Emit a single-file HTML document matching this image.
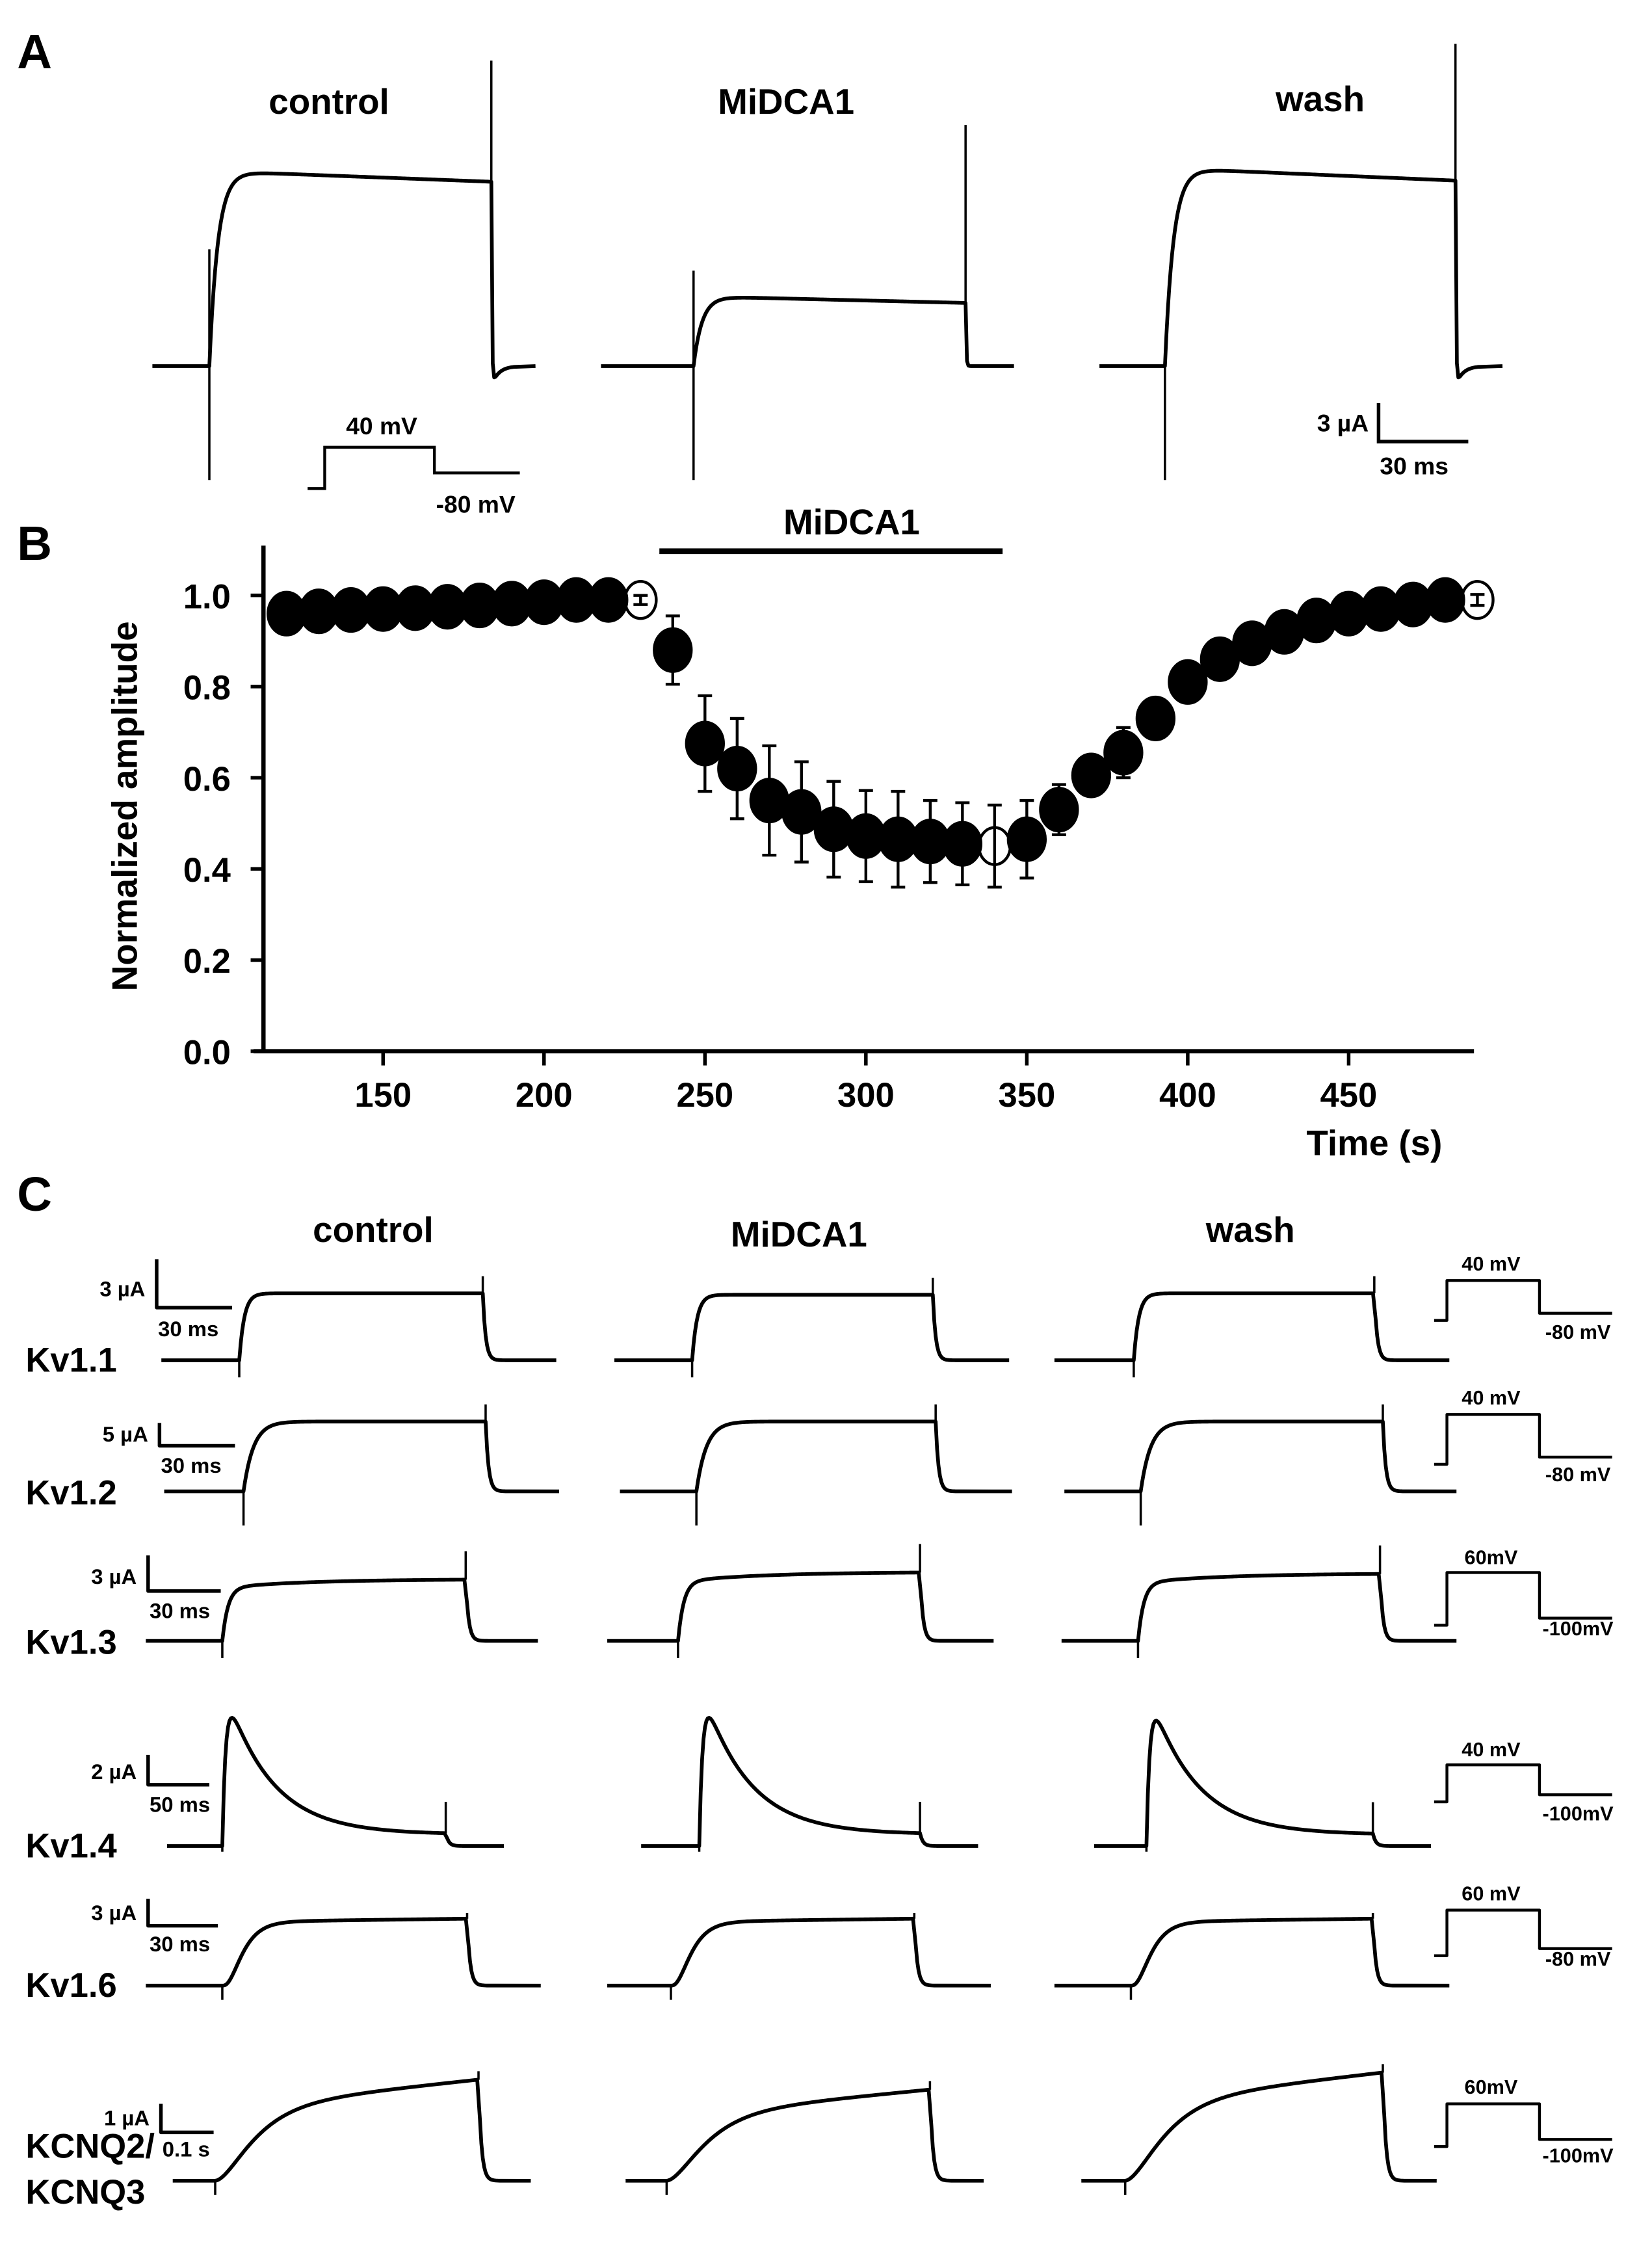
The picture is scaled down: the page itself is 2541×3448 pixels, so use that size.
<!DOCTYPE html>
<html><head><meta charset="utf-8">
<style>
html,body{margin:0;padding:0;background:#fff;}
svg{display:block;}
text{font-family:"Liberation Sans",Arial,sans-serif;font-weight:bold;fill:#000;}
</style></head>
<body>
<svg id="fig" width="2541" height="3448" viewBox="0 0 1160 1574" preserveAspectRatio="none" xmlns="http://www.w3.org/2000/svg">
<rect width="1160" height="1574" fill="#fff"/>
<text x="12" y="48" font-size="34">A</text>
<text x="12" y="393" font-size="34">B</text>
<text x="12" y="850" font-size="34">C</text>

<g id="panelA">
<text x="231" y="80" font-size="25" text-anchor="middle">control</text>
<text x="552" y="80" font-size="25" text-anchor="middle">MiDCA1</text>
<text x="927" y="78" font-size="25" text-anchor="middle">wash</text>
<path d="M216 343 H228 V314 H305 V332 H365" fill="none" stroke="#000" stroke-width="2"/>
<text x="268" y="305" font-size="17" text-anchor="middle">40 mV</text>
<text x="334" y="360" font-size="17" text-anchor="middle">-80 mV</text>
<path d="M968 283 V310 H1031" fill="none" stroke="#000" stroke-width="2.5"/>
<text x="961" y="303" font-size="17" text-anchor="end">3 µA</text>
<text x="993" y="333" font-size="17" text-anchor="middle">30 ms</text>
</g>

<g id="panelB">
<line x1="185" y1="383" x2="185" y2="738" stroke="#000" stroke-width="3"/>
<line x1="178" y1="738" x2="1035" y2="738" stroke="#000" stroke-width="3"/>
<text transform="translate(96,566) rotate(-90)" font-size="25" text-anchor="middle">Normalized amplitude</text>
<text x="965" y="811" font-size="25" text-anchor="middle">Time (s)</text>
<line x1="463" y1="387" x2="704" y2="387" stroke="#000" stroke-width="4"/>
<text x="598" y="375" font-size="25" text-anchor="middle">MiDCA1</text>
<g id="bticks"></g>
<g id="bdata"></g>
</g>

<g id="panelC">
<text x="262" y="872" font-size="25" text-anchor="middle">control</text>
<text x="561" y="875" font-size="25" text-anchor="middle">MiDCA1</text>
<text x="878" y="872" font-size="25" text-anchor="middle">wash</text>
</g>
<g id="traces"></g>
</svg>
<script>
// ---- Panel B data ----
const times = [120,130,140,150,160,170,180,190,200,210,220,230,240,250,260,270,280,290,300,310,320,330,340,350,360,370,380,390,400,410,420,430,440,450,460,470,480,490];
const amps  = [0.96,0.965,0.968,0.97,0.972,0.975,0.978,0.982,0.985,0.99,0.99,0.99,0.88,0.675,0.62,0.55,0.525,0.487,0.472,0.465,0.46,0.455,0.45,0.465,0.53,0.605,0.655,0.73,0.81,0.86,0.895,0.92,0.945,0.96,0.97,0.98,0.99,0.99];
const errs  = [0,0,0,0,0,0,0,0,0,0,0,0.01,0.075,0.105,0.11,0.12,0.11,0.105,0.1,0.105,0.09,0.09,0.09,0.085,0.055,0,0.055,0,0,0.025,0.03,0.03,0,0,0,0,0,0.012];
const openPts = [230,340,490];
const xTicks = [150,200,250,300,350,400,450];
const yTicks = [0,0.2,0.4,0.6,0.8,1.0];
const yTickLabels = ["0.0","0.2","0.4","0.6","0.8","1.0"];

const NS="http://www.w3.org/2000/svg";
function xS(t){return 269+(t-150)*2.26;}
function yS(v){return 738-v*320;}
function mk(tag,attrs,parent){const e=document.createElementNS(NS,tag);for(const k in attrs)e.setAttribute(k,attrs[k]);parent.appendChild(e);return e;}

const bt=document.getElementById('bticks');
xTicks.forEach(t=>{
  const l=mk('line',{x1:xS(t),x2:xS(t),y1:738,y2:748,stroke:'#000','stroke-width':2.5},bt);
  
  
  const tx=mk('text',{x:xS(t),y:777,'font-size':24,'text-anchor':'middle'},bt);
  tx.textContent=t;
  
  
});
yTicks.forEach((v,i)=>{
  const l=mk('line',{x1:176,x2:185,y1:yS(v),y2:yS(v),stroke:'#000','stroke-width':2.5},bt);
  
  
  const tx=mk('text',{x:162,y:yS(v)+9,'font-size':24,'text-anchor':'end'},bt);
  tx.textContent=yTickLabels[i];
  
  
});
const bd=document.getElementById('bdata');
times.forEach((t,i)=>{
  const x=xS(t),y=yS(amps[i]),e=errs[i];
  if(e>0){
    const p=mk('path',{d:`M${x} ${yS(amps[i]+e)} V${yS(amps[i]-e)} M${x-5} ${yS(amps[i]+e)} H${x+5} M${x-5} ${yS(amps[i]-e)} H${x+5}`,stroke:'#000','stroke-width':2,fill:'none'},bd);
    
    
  }
  const open=openPts.includes(t);
  const c=mk('ellipse',{cx:x,cy:y,rx:open?11:13.5,ry:open?13:15.5,fill:open?'none':'#000',stroke:'#000','stroke-width':open?2:1},bd);
  
  
});

// ---- Traces ----
const tg=document.getElementById('traces');
function addPath(d,name,w){
  const p=mk('path',{d:d,fill:'none',stroke:'#000','stroke-width':w||2.6,'stroke-linejoin':'round'},tg);
  
  
}
function trace(o,name){
  let d=`M${o.x0} ${o.base} L${o.xs} ${o.base}`;
  let yEnd=o.base;
  for(let x=o.xs;x<=o.xe;x+=1){
    const t=x-o.xs;
    const y=o.base-o.A*o.f(t);
    d+=` L${x} ${y.toFixed(2)}`;yEnd=y;
  }
  const tt=o.tailTau||3;
  for(let k=1;k<=16;k++){
    let y=o.base+(yEnd-o.base)*Math.exp(-k/tt);
    if(o.under) y+=o.under*Math.exp(-k/5)*(1-Math.exp(-k/0.7));
    d+=` L${o.xe+k} ${y.toFixed(2)}`;
  }
  d+=` L${o.x1} ${o.base}`;
  addPath(d,name,o.w);
  let s=`M${o.xs} ${o.base-(o.su||0)} V${o.base+(o.sd||0)}`;
  if(o.eu||o.ed) s+=` M${o.xe} ${yEnd-(o.eu||0)} V${yEnd+(o.ed||0)}`;
  addPath(s,name+'-transient',1.6);
}
const expR=(tau,drift)=>t=>(1-Math.exp(-t/tau))-drift*t;
// Panel A
trace({x0:107,xs:147,xe:345,x1:376,base:257,A:137,f:expR(6,0.00028),su:82,sd:80,eu:85,ed:0,under:14,tailTau:0.4},'trace-a-control');
trace({x0:422,xs:487,xe:678,x1:712,base:257,A:49,f:expR(6,0.0005),su:67,sd:80,eu:125,ed:0,tailTau:0.4},'trace-a-midca1');
trace({x0:772,xs:818,xe:1022,x1:1055,base:257,A:139,f:expR(6,0.00031),sd:80,eu:96,ed:0,under:14,tailTau:0.4},'trace-a-wash');

// Panel C rows
const rows=[
 {name:'kv1-1',base:955,cols:[[115,170,342,394,47],[435,490,660,714,46],[746,802,972,1025,47]],f:expR(3.5,0),sd:12,eu:12,label:'Kv1.1',ly:963,scaleV:[110,884,918],scaleH:[110,163],sl:['3 µA','30 ms'],slY:[910,938],prot:[899,922],pl:['40 mV','-80 mV'],ply:[892,940]},
 {name:'kv1-2',base:1047,cols:[[117,173,344,396,49],[439,493,662,716,49],[753,807,978,1030,49]],f:expR(7,0),sd:24,eu:12,label:'Kv1.2',ly:1056,scaleV:[112,999,1015],scaleH:[112,165],sl:['5 µA','30 ms'],slY:[1012,1034],prot:[993,1023],pl:['40 mV','-80 mV'],ply:[986,1040]},
 {name:'kv1-3',base:1152,cols:[[104,158,330,381,43],[430,480,651,703,48],[751,805,976,1030,47]],f:t=>(1-Math.exp(-t/4))*0.86+0.14*(1-Math.exp(-t/60)),sd:12,eu:20,label:'Kv1.3',ly:1161,scaleV:[104,1092,1117],scaleH:[104,155],sl:['3 µA','30 ms'],slY:[1112,1136],prot:[1104,1136],pl:['60mV','-100mV'],ply:[1098,1148]},
 {name:'kv1-4',base:1296,cols:[[119,158,316,357,90],[454,495,651,692,90],[774,811,971,1012,88]],f:t=>(1-Math.exp(-t/2.5))*(0.93*Math.exp(-t/32)+0.07),sd:4,eu:22,label:'Kv1.4',ly:1304,scaleV:[104,1232,1253],scaleH:[104,147],sl:['2 µA','50 ms'],slY:[1249,1272],prot:[1239,1260],pl:['40 mV','-100mV'],ply:[1233,1278]},
 {name:'kv1-6',base:1394,cols:[[104,158,331,383,47],[430,475,647,701,47],[746,800,971,1025,47]],f:t=>Math.pow(1-Math.exp(-t/9),3)*(1+0.0003*t),sd:10,eu:4,label:'Kv1.6',ly:1402,scaleV:[104,1333,1352],scaleH:[104,153],sl:['3 µA','30 ms'],slY:[1348,1370],prot:[1341,1368],pl:['60 mV','-80 mV'],ply:[1334,1380]},
 {name:'kcnq2-3',base:1531,cols:[[123,153,339,376,71],[443,472,658,696,64],[765,796,978,1016,76]],f:t=>Math.pow(1-Math.exp(-t/22),2)*0.72+0.28*Math.min(t/185,1),sd:10,eu:6,label:'KCNQ2/',ly:1515,scaleV:[113,1477,1497],scaleH:[113,150],sl:['1 µA','0.1 s'],slY:[1492,1514],prot:[1477,1502],pl:['60mV','-100mV'],ply:[1470,1518]}
];
const colNames=['control','midca1','wash'];
const cx=v=>Math.round((v*0.9938-0.95)*10)/10;
rows.forEach(r=>{
  r.cols.forEach((c,i)=>{
    const xs=cx(c[1]),xe=Math.round(cx(c[2]));
    const fmax=r.f(xe-xs);
    const A=c[4]/(r.name==='kv1-4'?Math.max(...Array.from({length:40},(_,t)=>r.f(t))):fmax);
    trace({x0:cx(c[0]),xs:xs,xe:xe,x1:cx(c[3]),base:r.base,A:A,f:r.f,sd:r.sd,eu:r.eu,tailTau:2,w:2.6},'trace-'+r.name+'-'+colNames[i]);
  });
  addPath(`M${r.scaleV[0]} ${r.scaleV[1]} V${r.scaleV[2]} H${r.scaleH[1]}`,'scale-bar-'+r.name,2.5);
  let t=mk('text',{x:r.scaleV[0]-8,y:r.slY[0],'font-size':15,'text-anchor':'end'},tg);t.textContent=r.sl[0];
  
  
  t=mk('text',{x:r.scaleV[0]+1,y:r.slY[1],'font-size':15},tg);t.textContent=r.sl[1];
  
  
  t=mk('text',{x:18,y:r.ly,'font-size':24},tg);t.textContent=r.label;
  
  
  addPath(`M1007 ${r.prot[1]+5} H1016 V${r.prot[0]} H1081 V${r.prot[1]} H1132`,'protocol-'+r.name,2);
  t=mk('text',{x:1047,y:r.ply[0],'font-size':14,'text-anchor':'middle'},tg);t.textContent=r.pl[0];
  
  
  t=mk('text',{x:1108,y:r.ply[1],'font-size':14,'text-anchor':'middle'},tg);t.textContent=r.pl[1];
  
  
});
const k3=mk('text',{x:18,y:1547,'font-size':24},tg);k3.textContent='KCNQ3';


</script>
</body></html>
